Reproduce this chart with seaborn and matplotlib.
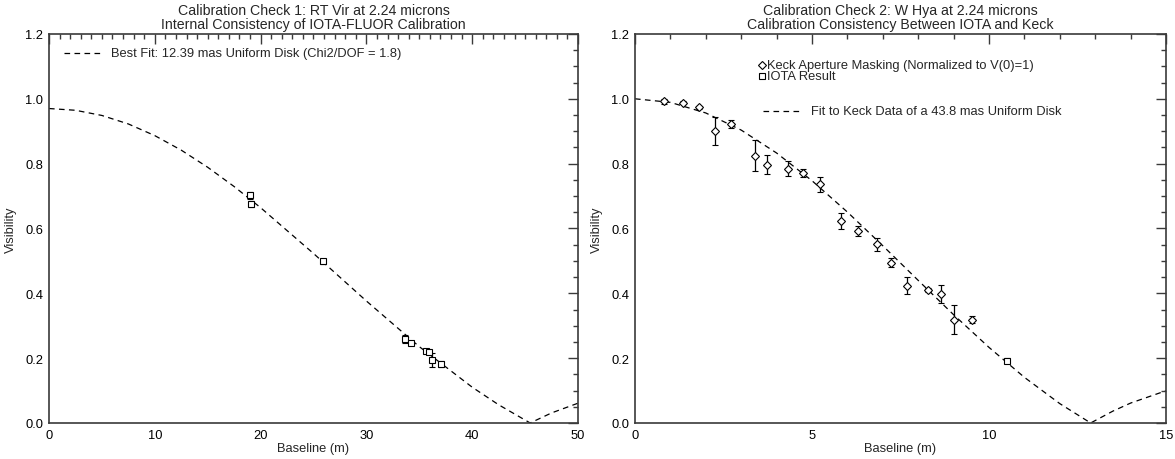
import numpy as np
import pandas as pd
import matplotlib
matplotlib.use("Agg")
import matplotlib.pyplot as plt
import seaborn as sns
from matplotlib.ticker import MultipleLocator, FormatStrFormatter

# ---------------- data ----------------
# Panel 1: RT Vir (IOTA-FLUOR)
rt_baseline = [19.0, 19.1, 25.9, 33.65, 34.2, 35.6, 35.9, 36.2, 37.05]
rt_vis = [0.702, 0.676, 0.499, 0.259, 0.246, 0.221, 0.218, 0.195, 0.182]
rt_err = [0.012, 0.010, 0.008, 0.013, 0.004, 0.006, 0.005, 0.021, 0.008]

# best-fit uniform disk curve
rt_fit_baseline = [0, 2.5, 5, 7.5, 10, 12.5, 15, 17.5, 20, 25, 30, 35, 40,
                   42.5, 45.48, 47.5, 50]
rt_fit_vis = [0.970, 0.9646, 0.9486, 0.9224, 0.8864, 0.8416, 0.7888, 0.7293,
              0.6642, 0.5229, 0.3763, 0.2355, 0.1104, 0.0562, 0.0, 0.0310,
              0.0610]

# Panel 2: W Hya (Keck aperture masking + IOTA)
keck_baseline = [0.82, 1.35, 1.82, 2.26, 2.70, 3.38, 3.73, 4.32, 4.74, 5.22,
                 5.82, 6.31, 6.84, 7.22, 7.69, 8.28, 8.64, 9.01, 9.51]
keck_vis = [0.992, 0.988, 0.974, 0.902, 0.923, 0.825, 0.797, 0.784, 0.771,
            0.736, 0.623, 0.592, 0.552, 0.494, 0.424, 0.410, 0.398, 0.318,
            0.318]
keck_err = [0.008, 0.005, 0.005, 0.043, 0.013, 0.047, 0.030, 0.023, 0.013,
            0.022, 0.026, 0.016, 0.020, 0.014, 0.025, 0.006, 0.028, 0.045,
            0.011]
iota_baseline = [10.50]
iota_vis = [0.192]
iota_err = [0.007]

whya_fit_baseline = [0, 1, 2, 3, 4, 5, 6, 7, 8, 9, 10, 11, 12, 12.87, 13.5,
                     14, 15]
whya_fit_vis = [1.0, 0.9890, 0.9563, 0.9035, 0.8328, 0.7473, 0.6506, 0.5467,
                0.4398, 0.3339, 0.2331, 0.1407, 0.0596, 0.0, 0.0367, 0.0615,
                0.0995]

titles = ["Calibration Check 1: RT Vir at 2.24 microns\n"
          "Internal Consistency of IOTA-FLUOR Calibration",
          "Calibration Check 2: W Hya at 2.24 microns\n"
          "Calibration Consistency Between IOTA and Keck"]
xlabel = "Baseline (m)"
ylabel = "Visibility"
legend1 = "Best Fit: 12.39 mas Uniform Disk (Chi2/DOF = 1.8)"
legend2a = "Keck Aperture Masking (Normalized to V(0)=1)"
legend2b = "IOTA Result"
legend2c = "Fit to Keck Data of a 43.8 mas Uniform Disk"

# ---------------- style ----------------
sns.set_theme(style="white")
plt.rcParams['font.family'] = ['Liberation Sans', 'DejaVu Sans']
AX = '#3a3a3a'
FS = 9.3

fig = plt.figure(figsize=(11.75, 4.6), dpi=100)
ax1 = fig.add_axes([0.0417, 0.0783, 0.4502, 0.8457])
ax2 = fig.add_axes([0.5404, 0.0783, 0.4520, 0.8457])

DASH = (4.5, 3.5)


def style_axis(ax, xmax, xmajor):
    ax.set_xlim(0, xmax)
    ax.set_ylim(0, 1.2)
    ax.xaxis.set_major_locator(MultipleLocator(xmajor))
    ax.xaxis.set_minor_locator(MultipleLocator(1))
    ax.yaxis.set_major_locator(MultipleLocator(0.2))
    ax.yaxis.set_minor_locator(MultipleLocator(0.05))
    ax.yaxis.set_major_formatter(FormatStrFormatter('%.1f'))
    ax.xaxis.set_major_formatter(FormatStrFormatter('%d'))
    ax.tick_params(which='both', direction='in', top=True, right=True,
                   color=AX, width=1.0, labelsize=FS, labelcolor='black')
    ax.tick_params(which='major', length=7, pad=4)
    ax.tick_params(which='minor', length=3.5)
    for s in ax.spines.values():
        s.set_color(AX)
        s.set_linewidth(1.2)
    ax.set_xlabel(xlabel, fontsize=FS, labelpad=1)
    ax.set_ylabel(ylabel, fontsize=FS, labelpad=6)
    ax.grid(False)


# ---- panel 1 ----
df_fit1 = pd.DataFrame({'b': rt_fit_baseline, 'v': rt_fit_vis})
sns.lineplot(data=df_fit1, x='b', y='v', ax=ax1, color='black', lw=0.9,
             dashes=False, linestyle=(0, DASH), sort=False)
ax1.errorbar(rt_baseline, rt_vis, yerr=rt_err, fmt='s', ms=5,
             mfc='white', mec='black', mew=0.8, ecolor='black',
             elinewidth=0.9, capsize=2.5, capthick=0.9, zorder=3)
style_axis(ax1, 50, 10)
ax1.set_title(titles[0], fontsize=10.2, pad=4, linespacing=1.0)
ax1.plot([1.4, 4.9], [1.142, 1.142], color='black', lw=0.9,
         linestyle=(0, DASH))
ax1.text(5.9, 1.142, legend1, fontsize=FS, va='center', ha='left')

# ---- panel 2 ----
df_fit2 = pd.DataFrame({'b': whya_fit_baseline, 'v': whya_fit_vis})
sns.lineplot(data=df_fit2, x='b', y='v', ax=ax2, color='black', lw=0.9,
             dashes=False, linestyle=(0, DASH), sort=False)
ax2.errorbar(keck_baseline, keck_vis, yerr=keck_err, fmt='D', ms=3.8,
             mfc='white', mec='black', mew=0.8, ecolor='black',
             elinewidth=0.9, capsize=2.5, capthick=0.9, zorder=3)
ax2.errorbar(iota_baseline, iota_vis, yerr=iota_err, fmt='s', ms=5,
             mfc='white', mec='black', mew=0.8, ecolor='black',
             elinewidth=0.9, capsize=2.5, capthick=0.9, zorder=3)
style_axis(ax2, 15, 5)
ax2.set_title(titles[1], fontsize=10.2, pad=4, linespacing=1.0)
ax2.plot([3.6], [1.104], 'D', ms=3.8, mfc='white', mec='black', mew=0.8)
ax2.text(3.74, 1.104, legend2a, fontsize=FS, va='center', ha='left')
ax2.plot([3.6], [1.070], 's', ms=5, mfc='white', mec='black', mew=0.8)
ax2.text(3.74, 1.070, legend2b, fontsize=FS, va='center', ha='left')
ax2.plot([3.62, 4.62], [0.963, 0.963], color='black', lw=0.9,
         linestyle=(0, DASH))
ax2.text(4.98, 0.963, legend2c, fontsize=FS, va='center', ha='left')

fig.savefig('out.png', dpi=100, facecolor='white')
